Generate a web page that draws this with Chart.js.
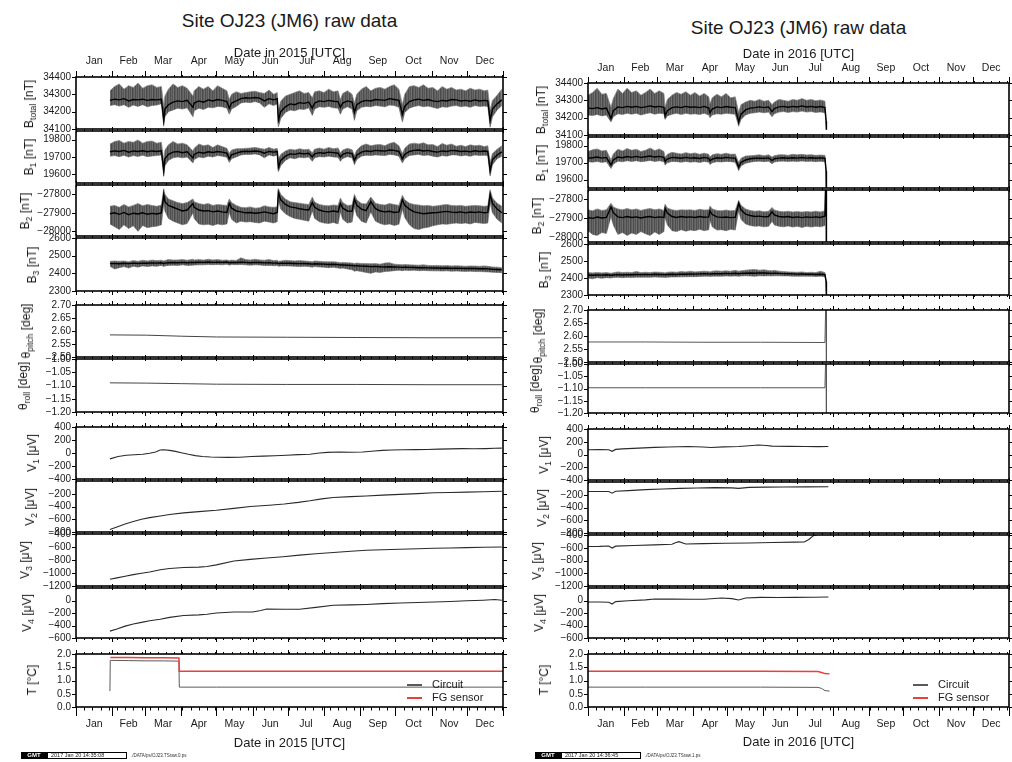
<!DOCTYPE html>
<html>
<head>
<meta charset="utf-8">
<title>Site OJ23 (JM6) raw data</title>
<script src="https://cdn.jsdelivr.net/npm/chart.js@4.4.1/dist/chart.umd.min.js"></script>
<style>
  body { margin: 0; background: #fff; }
  #page { position: relative; width: 1012px; height: 762px; overflow: hidden; background: #fff;
          font-family: "Liberation Sans", Arial, Helvetica, sans-serif; color: #1a1a1a; }
  #page canvas { position: absolute; }
  .txt { position: absolute; white-space: nowrap; transform: translate(-50%, -50%); }
  .title { font-size: 19px; }
  .date { font-size: 13px; }
  .ylab { position: absolute; white-space: nowrap; font-size: 12px; line-height: 12px;
          transform: translate(-50%, -50%) rotate(-90deg); }
  .ylab sub { font-size: 72%; vertical-align: -0.3em; line-height: 0; }
  .leg { position: absolute; font-size: 11px; line-height: 11px; white-space: nowrap; }
  .legline { position: absolute; height: 2px; width: 15px; }
  .foot { position: absolute; height: 7px; display: flex; align-items: stretch; font-size: 5px; line-height: 7px; }
  .foot .logo { background: #000; color: #fff; font-weight: bold; font-size: 6px; width: 26px; text-align: center; }
  .foot .stamp { border: 1px solid #000; box-sizing: border-box; width: 80px; padding-left: 3px; line-height: 5px; font-size: 5.5px; }
  .foot .path { padding-left: 4px; font-size: 4.5px; color: #333; }
</style>
</head>
<body>
<div id="page"></div>
<script>
// ---------------- tick labels ----------------
const monthNames = ['Jan', 'Feb', 'Mar', 'Apr', 'May', 'Jun', 'Jul', 'Aug', 'Sep', 'Oct', 'Nov', 'Dec'];
const bTotalTicks = [34100, 34200, 34300, 34400];
const b1Ticks = [19600, 19700, 19800];
const b2Ticks = [-28000, -27900, -27800];
const b3Ticks = [2300, 2400, 2500, 2600];
const pitchTicks = [2.50, 2.55, 2.60, 2.65, 2.70];
const rollTicks = [-1.20, -1.15, -1.10, -1.05, -1.00];
const v1Ticks = [-400, -200, 0, 200, 400];
const v2Ticks = [-800, -600, -400, -200];
const v3Ticks = [-1200, -1000, -800, -600, -400];
const v4Ticks = [-600, -400, -200, 0];
const tempTicks = [0.0, 0.5, 1.0, 1.5, 2.0];

// ---------------- 2015 magnetometer (day of year) ----------------
const days2015B = [
  29, 33, 37, 41, 45, 49, 53, 57, 61, 65, 69, 73,
  75, 76, 79, 83, 87, 91, 95, 100, 101, 105, 109, 113,
  117, 121, 125, 129, 131, 133, 137, 141, 145, 149, 153, 157,
  161, 165, 169, 172, 173, 175, 179, 183, 187, 191, 195, 199,
  202, 204, 208, 212, 216, 220, 224, 226, 228, 232, 236, 238,
  240, 244, 248, 252, 256, 260, 264, 268, 272, 276, 279, 281,
  285, 289, 293, 297, 301, 305, 309, 313, 317, 321, 325, 329,
  333, 337, 341, 345, 349, 352, 354, 356, 360, 364];

const bTotal2015 = [
  34265, 34272, 34268, 34275, 34262, 34270, 34268, 34272, 34265, 34270, 34268, 34272,
  34150, 34215, 34240, 34255, 34262, 34258, 34265, 34225, 34250, 34262, 34255, 34268,
  34262, 34270, 34265, 34258, 34220, 34250, 34262, 34275, 34280, 34278, 34282, 34278,
  34262, 34275, 34268, 34275, 34150, 34200, 34228, 34245, 34240, 34252, 34248, 34255,
  34220, 34250, 34262, 34258, 34265, 34260, 34258, 34225, 34250, 34262, 34255, 34195,
  34240, 34258, 34265, 34262, 34270, 34268, 34265, 34275, 34270, 34265, 34185, 34230,
  34258, 34268, 34272, 34265, 34270, 34262, 34258, 34265, 34262, 34270, 34268, 34262,
  34265, 34260, 34268, 34262, 34265, 34262, 34150, 34215, 34245, 34268];
const bTotal2015Hi = [
  34320, 34345, 34360, 34330, 34350, 34340, 34365, 34335, 34350, 34355, 34340, 34345,
  34230, 34290, 34330, 34360, 34340, 34350, 34335, 34290, 34320, 34345, 34330, 34345,
  34320, 34350, 34335, 34320, 34270, 34300, 34315, 34305, 34310, 34315, 34318, 34310,
  34305, 34325, 34300, 34310, 34210, 34260, 34290, 34300, 34310, 34320, 34305, 34310,
  34280, 34315, 34320, 34310, 34330, 34315, 34320, 34270, 34305, 34320, 34300, 34250,
  34300, 34330, 34345, 34320, 34335, 34340, 34330, 34345, 34355, 34330, 34240, 34300,
  34345, 34350, 34340, 34355, 34335, 34340, 34320, 34345, 34330, 34340, 34325, 34330,
  34320, 34335, 34325, 34330, 34320, 34325, 34210, 34265, 34295, 34330];
const bTotal2015Lo = [
  34235, 34240, 34232, 34240, 34225, 34238, 34230, 34240, 34228, 34235, 34238, 34245,
  34120, 34170, 34200, 34210, 34220, 34215, 34222, 34170, 34205, 34220, 34212, 34225,
  34222, 34230, 34228, 34220, 34185, 34215, 34230, 34250, 34255, 34252, 34258, 34250,
  34225, 34245, 34235, 34245, 34112, 34160, 34195, 34210, 34205, 34215, 34212, 34222,
  34178, 34215, 34228, 34225, 34230, 34222, 34220, 34185, 34215, 34228, 34215, 34150,
  34205, 34225, 34230, 34228, 34235, 34232, 34228, 34238, 34235, 34225, 34140, 34195,
  34220, 34230, 34235, 34228, 34232, 34225, 34218, 34228, 34225, 34232, 34235, 34228,
  34232, 34225, 34235, 34230, 34232, 34230, 34110, 34170, 34210, 34235];

const b1_2015 = [
  19730, 19735, 19732, 19738, 19728, 19735, 19732, 19736, 19730, 19735, 19732, 19736,
  19620, 19690, 19715, 19728, 19732, 19725, 19730, 19695, 19715, 19728, 19722, 19730,
  19726, 19732, 19728, 19722, 19690, 19712, 19722, 19730, 19733, 19732, 19735, 19732,
  19722, 19732, 19728, 19732, 19640, 19680, 19705, 19718, 19715, 19722, 19718, 19722,
  19700, 19718, 19725, 19722, 19728, 19725, 19722, 19700, 19715, 19725, 19720, 19680,
  19710, 19728, 19735, 19732, 19738, 19736, 19734, 19740, 19738, 19732, 19690, 19715,
  19732, 19738, 19740, 19735, 19738, 19732, 19728, 19735, 19732, 19738, 19736, 19732,
  19734, 19730, 19736, 19732, 19735, 19732, 19620, 19685, 19712, 19730];
const b1_2015Hi = [
  19775, 19790, 19795, 19780, 19790, 19785, 19798, 19780, 19790, 19792, 19780, 19785,
  19680, 19740, 19770, 19790, 19775, 19780, 19770, 19735, 19750, 19775, 19765, 19770,
  19755, 19770, 19760, 19750, 19720, 19740, 19748, 19748, 19750, 19752, 19755, 19750,
  19745, 19755, 19745, 19750, 19690, 19715, 19735, 19745, 19740, 19748, 19742, 19745,
  19725, 19745, 19752, 19745, 19755, 19748, 19752, 19725, 19740, 19750, 19742, 19710,
  19740, 19765, 19775, 19765, 19770, 19772, 19765, 19778, 19785, 19765, 19720, 19750,
  19775, 19780, 19775, 19782, 19770, 19772, 19760, 19778, 19768, 19775, 19762, 19768,
  19760, 19770, 19765, 19768, 19760, 19765, 19670, 19720, 19745, 19765];
const b1_2015Lo = [
  19705, 19708, 19702, 19710, 19700, 19708, 19703, 19710, 19702, 19706, 19708, 19712,
  19590, 19650, 19680, 19695, 19700, 19695, 19700, 19665, 19685, 19700, 19695, 19705,
  19700, 19708, 19705, 19698, 19668, 19690, 19700, 19712, 19715, 19714, 19718, 19712,
  19695, 19712, 19705, 19712, 19615, 19650, 19680, 19695, 19690, 19698, 19695, 19700,
  19675, 19695, 19702, 19700, 19705, 19700, 19698, 19675, 19692, 19702, 19695, 19655,
  19685, 19705, 19710, 19708, 19712, 19710, 19708, 19715, 19712, 19705, 19665, 19690,
  19708, 19712, 19715, 19708, 19712, 19705, 19700, 19708, 19705, 19712, 19712, 19706,
  19710, 19704, 19712, 19708, 19710, 19708, 19590, 19655, 19690, 19705];

const b2_2015 = [
  -27905, -27900, -27908, -27898, -27910, -27902, -27906, -27900, -27908, -27903, -27906, -27900,
  -27800, -27840, -27860, -27870, -27880, -27890, -27885, -27850, -27870, -27885, -27890, -27888,
  -27895, -27890, -27895, -27898, -27850, -27875, -27890, -27895, -27900, -27898, -27902, -27900,
  -27895, -27900, -27905, -27898, -27790, -27830, -27855, -27868, -27872, -27878, -27882, -27885,
  -27845, -27870, -27885, -27892, -27895, -27890, -27895, -27850, -27875, -27890, -27892, -27825,
  -27860, -27880, -27888, -27840, -27878, -27890, -27895, -27892, -27898, -27895, -27830, -27860,
  -27880, -27895, -27900, -27905, -27902, -27900, -27898, -27895, -27892, -27896, -27898, -27895,
  -27900, -27896, -27898, -27895, -27900, -27898, -27800, -27850, -27880, -27900];
const b2_2015Hi = [
  -27865, -27860, -27870, -27855, -27868, -27860, -27850, -27862, -27855, -27860, -27865, -27858,
  -27770, -27800, -27825, -27835, -27845, -27850, -27845, -27825, -27840, -27850, -27855, -27850,
  -27860, -27855, -27858, -27860, -27825, -27845, -27860, -27870, -27872, -27868, -27875, -27872,
  -27862, -27868, -27870, -27868, -27770, -27800, -27825, -27840, -27845, -27848, -27852, -27855,
  -27815, -27842, -27855, -27860, -27862, -27858, -27860, -27820, -27845, -27860, -27858, -27800,
  -27830, -27850, -27852, -27815, -27848, -27855, -27858, -27850, -27855, -27860, -27805, -27830,
  -27848, -27855, -27858, -27862, -27860, -27865, -27862, -27858, -27855, -27860, -27862, -27860,
  -27865, -27862, -27860, -27862, -27865, -27862, -27775, -27820, -27848, -27865];
const b2_2015Lo = [
  -27960, -27975, -27990, -27965, -27985, -27970, -28000, -27968, -27980, -27975, -27972, -27965,
  -27850, -27890, -27930, -27945, -27955, -27965, -27958, -27900, -27930, -27960, -27965, -27962,
  -27968, -27960, -27965, -27960, -27895, -27935, -27955, -27945, -27950, -27948, -27952, -27955,
  -27945, -27950, -27955, -27948, -27830, -27880, -27905, -27920, -27930, -27935, -27940, -27945,
  -27890, -27930, -27948, -27955, -27958, -27952, -27960, -27895, -27935, -27955, -27950, -27870,
  -27915, -27945, -27955, -27895, -27945, -27958, -27965, -27960, -27968, -27962, -27880, -27925,
  -27965, -27985, -27990, -27982, -27978, -27970, -27965, -27960, -27962, -27958, -27955, -27958,
  -27955, -27960, -27952, -27955, -27958, -27955, -27845, -27900, -27935, -27955];

const b3_2015 = [
  2455, 2456, 2454, 2457, 2455, 2458, 2456, 2458, 2457, 2459, 2458, 2460,
  2455, 2458, 2460, 2461, 2460, 2462, 2460, 2462, 2461, 2463, 2462, 2464,
  2462, 2463, 2462, 2464, 2460, 2462, 2461, 2463, 2462, 2460, 2462, 2461,
  2459, 2460, 2458, 2459, 2455, 2457, 2458, 2457, 2456, 2455, 2456, 2454,
  2452, 2454, 2453, 2452, 2450, 2451, 2449, 2447, 2448, 2446, 2444, 2442,
  2443, 2441, 2440, 2438, 2439, 2437, 2436, 2437, 2436, 2435, 2434, 2435,
  2434, 2433, 2432, 2432, 2431, 2430, 2430, 2429, 2430, 2428, 2429, 2428,
  2427, 2428, 2427, 2426, 2426, 2425, 2424, 2423, 2422, 2420];
const b3_2015Hi = [
  2468, 2470, 2468, 2470, 2466, 2472, 2468, 2474, 2470, 2475, 2472, 2474,
  2470, 2472, 2478, 2475, 2476, 2478, 2474, 2480, 2475, 2478, 2475, 2480,
  2476, 2478, 2474, 2476, 2472, 2475, 2473, 2488, 2478, 2475, 2480, 2476,
  2474, 2478, 2472, 2474, 2468, 2470, 2474, 2472, 2470, 2472, 2470, 2468,
  2466, 2470, 2468, 2466, 2465, 2466, 2463, 2460, 2462, 2460, 2458, 2455,
  2458, 2456, 2455, 2454, 2455, 2452, 2458, 2460, 2452, 2450, 2448, 2450,
  2448, 2447, 2446, 2448, 2445, 2444, 2445, 2443, 2444, 2442, 2443, 2442,
  2440, 2442, 2441, 2440, 2442, 2440, 2438, 2436, 2435, 2432];
const b3_2015Lo = [
  2440, 2425, 2432, 2438, 2430, 2440, 2435, 2442, 2438, 2442, 2440, 2445,
  2438, 2442, 2445, 2446, 2444, 2448, 2445, 2446, 2447, 2448, 2448, 2450,
  2449, 2450, 2448, 2452, 2446, 2450, 2449, 2450, 2448, 2446, 2448, 2447,
  2444, 2445, 2443, 2444, 2440, 2442, 2442, 2441, 2440, 2438, 2440, 2438,
  2435, 2438, 2436, 2435, 2432, 2434, 2430, 2428, 2430, 2425, 2420, 2412,
  2415, 2410, 2405, 2400, 2408, 2405, 2410, 2412, 2415, 2418, 2415, 2418,
  2416, 2418, 2415, 2416, 2415, 2414, 2414, 2413, 2414, 2412, 2413, 2412,
  2411, 2412, 2410, 2410, 2409, 2408, 2407, 2406, 2405, 2404];

// ---------------- 2015 tilt, electrodes, temperature ----------------
const tilt2015Days = [29, 60, 90, 120, 180, 240, 300, 364];
const pitch2015 = [2.585, 2.584, 2.580, 2.577, 2.576, 2.575, 2.574, 2.574];
const roll2015 = [-1.090, -1.091, -1.093, -1.095, -1.096, -1.096, -1.097, -1.097];

const v1_2015Days = [29, 36, 43, 50, 57, 63, 68, 72, 75, 80, 85, 90, 96, 102, 108, 115, 122, 130, 140, 150, 160, 170,
  180, 190, 200, 208, 215, 225, 235, 245, 255, 262, 270, 280, 290, 300, 310, 320, 330, 340, 350, 358, 364];
const v1_2015 = [-90, -55, -35, -28, -20, -5, 15, 45, 50, 40, 25, 5, -20, -40, -55, -62, -66, -68, -65, -55, -48, -42,
  -35, -25, -20, 0, 10, 15, 12, 15, 30, 40, 45, 50, 52, 55, 60, 64, 68, 66, 68, 72, 75];
const v2_2015Days = [29, 35, 42, 49, 56, 63, 72, 80, 92, 105, 120, 135, 149, 165, 178, 190, 200, 210, 220, 235, 248,
  262, 277, 292, 306, 320, 334, 348, 364];
const v2_2015 = [-760, -720, -675, -635, -600, -575, -550, -525, -500, -480, -460, -430, -400, -380, -360, -335, -310,
  -280, -260, -245, -235, -222, -210, -198, -185, -180, -175, -168, -160];
const v3_2015Days = [29, 35, 42, 49, 56, 63, 72, 80, 92, 105, 112, 120, 135, 149, 163, 177, 191, 205, 220, 235, 248,
  262, 277, 292, 306, 320, 334, 348, 364];
const v3_2015 = [-1095, -1075, -1050, -1025, -1005, -985, -950, -930, -915, -910, -900, -875, -815, -790, -770, -750,
  -725, -705, -685, -665, -650, -642, -635, -627, -620, -615, -610, -605, -600];
const v4_2015Days = [29, 35, 42, 49, 56, 63, 72, 80, 92, 105, 112, 120, 135, 151, 158, 163, 177, 191, 205, 220, 235,
  248, 262, 277, 292, 306, 320, 334, 348, 358, 364];
const v4_2015 = [-490, -455, -410, -375, -350, -325, -300, -270, -240, -230, -220, -200, -185, -183, -160, -135, -140,
  -140, -110, -75, -70, -63, -50, -40, -32, -25, -15, -5, 5, 15, 5];

const circuit2015Days = [29, 29.3, 45, 60, 75, 88, 88.3, 120, 200, 300, 365];
const circuit2015 = [0.60, 1.76, 1.75, 1.74, 1.74, 1.73, 0.75, 0.75, 0.75, 0.75, 0.75];
const fg2015Days = [29.3, 45, 60, 75, 88, 88.3, 150, 250, 365];
const fg2015 = [1.87, 1.87, 1.86, 1.86, 1.85, 1.35, 1.35, 1.35, 1.35];

// ---------------- 2016 magnetometer ----------------
const days2016B = [
  0, 4, 8, 12, 16, 20, 22, 26, 30, 34, 38, 42,
  46, 50, 54, 58, 62, 66, 67, 69, 73, 77, 81, 85,
  89, 93, 97, 101, 105, 106, 108, 112, 116, 120, 124, 128,
  131, 133, 137, 141, 145, 149, 153, 157, 160, 162, 166, 170,
  174, 178, 182, 186, 190, 194, 198, 202, 206, 207, 207.3];

const bTotal2016 = [
  34255, 34252, 34258, 34250, 34255, 34195, 34240, 34262, 34258, 34265, 34260, 34265,
  34258, 34262, 34268, 34262, 34265, 34260, 34210, 34240, 34258, 34262, 34258, 34265,
  34260, 34262, 34258, 34265, 34255, 34228, 34250, 34262, 34258, 34264, 34260, 34258,
  34175, 34220, 34245, 34255, 34258, 34262, 34258, 34262, 34235, 34252, 34262, 34265,
  34260, 34265, 34262, 34268, 34262, 34265, 34260, 34264, 34258, 34180, 34130];
const bTotal2016Hi = [
  34330, 34345, 34370, 34335, 34340, 34260, 34310, 34365, 34340, 34370, 34345, 34355,
  34330, 34345, 34365, 34340, 34355, 34340, 34260, 34305, 34330, 34345, 34335, 34350,
  34330, 34345, 34325, 34340, 34320, 34280, 34315, 34335, 34320, 34340, 34315, 34320,
  34230, 34275, 34290, 34300, 34295, 34305, 34295, 34300, 34275, 34290, 34305, 34300,
  34295, 34305, 34300, 34310, 34300, 34305, 34298, 34302, 34295, 34180, 34130];
const bTotal2016Lo = [
  34215, 34212, 34218, 34210, 34215, 34175, 34205, 34222, 34218, 34225, 34220, 34225,
  34215, 34222, 34228, 34220, 34225, 34222, 34190, 34210, 34220, 34225, 34218, 34225,
  34220, 34222, 34218, 34225, 34215, 34200, 34215, 34222, 34220, 34225, 34222, 34220,
  34150, 34190, 34215, 34225, 34228, 34232, 34228, 34232, 34205, 34222, 34232, 34235,
  34230, 34235, 34232, 34238, 34232, 34235, 34230, 34233, 34228, 34180, 34130];

const b1_2016 = [
  19725, 19728, 19732, 19726, 19730, 19685, 19715, 19732, 19728, 19735, 19730, 19736,
  19730, 19734, 19738, 19732, 19736, 19730, 19705, 19720, 19730, 19728, 19725, 19730,
  19726, 19728, 19724, 19730, 19725, 19710, 19720, 19728, 19725, 19730, 19727, 19725,
  19672, 19700, 19715, 19722, 19725, 19726, 19724, 19727, 19712, 19722, 19726, 19728,
  19725, 19728, 19726, 19729, 19726, 19728, 19725, 19727, 19725, 19650, 19500];
const b1_2016Hi = [
  19765, 19775, 19780, 19768, 19772, 19715, 19750, 19778, 19768, 19782, 19772, 19778,
  19765, 19772, 19785, 19770, 19780, 19765, 19730, 19748, 19760, 19755, 19750, 19758,
  19752, 19756, 19748, 19755, 19748, 19732, 19745, 19752, 19748, 19755, 19748, 19750,
  19700, 19725, 19738, 19740, 19742, 19745, 19740, 19745, 19732, 19740, 19745, 19746,
  19742, 19748, 19745, 19748, 19744, 19746, 19742, 19744, 19742, 19650, 19500];
const b1_2016Lo = [
  19705, 19702, 19706, 19700, 19705, 19665, 19690, 19708, 19704, 19710, 19706, 19710,
  19704, 19708, 19712, 19706, 19710, 19705, 19685, 19698, 19706, 19705, 19702, 19706,
  19702, 19705, 19700, 19706, 19702, 19688, 19698, 19705, 19703, 19706, 19705, 19702,
  19652, 19680, 19695, 19702, 19706, 19707, 19705, 19708, 19692, 19703, 19707, 19708,
  19706, 19708, 19706, 19709, 19706, 19708, 19705, 19707, 19705, 19650, 19500];

const b2_2016 = [
  -27895, -27900, -27893, -27898, -27895, -27840, -27870, -27892, -27896, -27890, -27895, -27892,
  -27898, -27893, -27890, -27896, -27892, -27895, -27848, -27872, -27890, -27895, -27890, -27894,
  -27892, -27895, -27890, -27894, -27892, -27860, -27880, -27892, -27895, -27893, -27896, -27894,
  -27820, -27855, -27878, -27885, -27890, -27888, -27892, -27890, -27865, -27882, -27890, -27893,
  -27890, -27895, -27892, -27896, -27892, -27895, -27892, -27895, -27888, -27600, -28100];
const b2_2016Hi = [
  -27855, -27860, -27850, -27858, -27855, -27820, -27840, -27850, -27855, -27848, -27855, -27850,
  -27858, -27852, -27848, -27855, -27850, -27858, -27825, -27845, -27855, -27858, -27855, -27856,
  -27855, -27858, -27852, -27856, -27855, -27835, -27850, -27858, -27860, -27856, -27860, -27858,
  -27805, -27830, -27850, -27858, -27862, -27860, -27865, -27862, -27842, -27856, -27862, -27865,
  -27862, -27866, -27864, -27867, -27864, -27866, -27862, -27866, -27860, -27600, -28100];
const b2_2016Lo = [
  -27965, -27985, -27990, -27975, -27980, -27890, -27935, -27985, -27975, -27990, -27978, -27985,
  -27970, -27982, -27990, -27972, -27985, -27970, -27895, -27935, -27965, -27970, -27960, -27968,
  -27962, -27965, -27958, -27965, -27960, -27910, -27945, -27962, -27960, -27965, -27958, -27962,
  -27860, -27905, -27930, -27938, -27942, -27940, -27945, -27942, -27915, -27935, -27942, -27945,
  -27940, -27946, -27942, -27948, -27942, -27946, -27942, -27945, -27938, -27600, -28100];

const b3_2016 = [
  2418, 2416, 2418, 2417, 2419, 2416, 2418, 2420, 2418, 2420, 2419, 2421,
  2420, 2421, 2420, 2422, 2421, 2420, 2419, 2421, 2422, 2421, 2423, 2422,
  2424, 2423, 2424, 2425, 2424, 2423, 2425, 2426, 2425, 2427, 2426, 2428,
  2425, 2427, 2428, 2429, 2428, 2430, 2429, 2428, 2427, 2428, 2427, 2426,
  2425, 2424, 2423, 2424, 2422, 2423, 2421, 2422, 2420, 2380, 2290];
const b3_2016Hi = [
  2432, 2430, 2433, 2430, 2432, 2428, 2431, 2436, 2432, 2434, 2432, 2438,
  2432, 2434, 2432, 2435, 2434, 2432, 2430, 2434, 2436, 2434, 2438, 2436,
  2440, 2436, 2438, 2440, 2438, 2436, 2440, 2442, 2440, 2442, 2440, 2445,
  2440, 2442, 2446, 2448, 2450, 2446, 2448, 2444, 2442, 2445, 2440, 2438,
  2436, 2435, 2434, 2436, 2432, 2434, 2432, 2440, 2432, 2380, 2290];
const b3_2016Lo = [
  2400, 2395, 2402, 2398, 2402, 2400, 2403, 2404, 2402, 2404, 2403, 2405,
  2404, 2405, 2404, 2406, 2405, 2404, 2403, 2405, 2406, 2406, 2407, 2407,
  2408, 2408, 2409, 2410, 2410, 2409, 2410, 2411, 2410, 2412, 2411, 2412,
  2410, 2412, 2413, 2412, 2410, 2413, 2412, 2413, 2412, 2413, 2413, 2412,
  2412, 2411, 2410, 2411, 2410, 2410, 2409, 2410, 2408, 2380, 2290];

// ---------------- 2016 tilt, electrodes, temperature ----------------
const tilt2016Days = [0, 50, 100, 150, 206, 207, 207.3];
const pitch2016 = [2.577, 2.577, 2.576, 2.576, 2.575, 2.80, 2.40];
const roll2016 = [-1.097, -1.097, -1.097, -1.097, -1.097, -0.90, -1.30];

const v1_2016Days = [0, 10, 18, 21, 24, 30, 44, 58, 70, 87, 100, 107, 118, 131, 140, 148, 155, 160, 175, 189, 200, 209];
const v1_2016 = [75, 78, 75, 50, 80, 88, 100, 112, 118, 125, 118, 110, 120, 125, 138, 148, 140, 132, 128, 125, 124, 125];
const v2_2016Days = [0, 10, 18, 21, 24, 35, 50, 65, 80, 95, 110, 125, 131, 140, 155, 170, 190, 209];
const v2_2016 = [-150, -148, -150, -175, -145, -135, -120, -110, -100, -95, -88, -92, -100, -85, -80, -78, -76, -75];
const v3_2016Days = [0, 10, 18, 21, 24, 40, 58, 73, 76, 79, 85, 100, 120, 140, 160, 180, 188, 192, 196, 200, 206];
const v3_2016 = [-580, -578, -572, -605, -575, -565, -555, -545, -520, -505, -540, -535, -530, -525, -518, -512, -510,
  -470, -410, -390, -385];
const v4_2016Days = [0, 10, 18, 21, 24, 35, 50, 58, 73, 90, 101, 116, 125, 131, 137, 150, 165, 180, 195, 209];
const v4_2016 = [-25, -25, -28, -57, -18, -5, 10, 25, 22, 20, 20, 40, 30, 8, 40, 50, 48, 50, 52, 55];

const temp2016Days = [0, 50, 100, 150, 200, 203, 206, 210];
const circuit2016 = [0.75, 0.75, 0.75, 0.75, 0.74, 0.70, 0.62, 0.60];
const fg2016 = [1.35, 1.35, 1.35, 1.35, 1.34, 1.30, 1.26, 1.25];

// ---------------- drawing ----------------
const FONT = '"Liberation Sans", Arial, Helvetica, sans-serif';
Chart.defaults.font.family = FONT;
Chart.defaults.color = '#1a1a1a';

const Y_W = 60, PAD_R = 10, PAD_T = 10, PAD_B = 10, AXIS_H = 26;
const RED = '#e8403a', GREY = '#5a5a5a';

// fine vertical hatching that gives the scatter band of the raw samples its texture
const bandFill = (() => {
  const c = document.createElement('canvas');
  c.width = 7; c.height = 4;
  const g = c.getContext('2d');
  ['#4e4e4e', '#666666', '#555555', '#707070', '#4a4a4a', '#5e5e5e', '#6a6a6a'].forEach((col, i) => {
    g.fillStyle = col;
    g.fillRect(i, 0, 1, 4);
  });
  return g.createPattern(c, 'repeat');
})();

const pts = (days, vals) => days.map((d, i) => ({ x: d, y: vals[i] }));
const trace = (days, vals, color, width) => ({ data: pts(days, vals), borderColor: color, borderWidth: width, fill: false });
const noisy = (days, mid, hi, lo) => [
  { data: pts(days, mid), borderColor: '#000', borderWidth: 1.4, fill: false },
  { data: pts(days, hi), borderColor: 'rgba(130,130,130,0.9)', borderWidth: 0.8,
    backgroundColor: bandFill, fill: '+1' },
  { data: pts(days, lo), borderColor: 'rgba(130,130,130,0.9)', borderWidth: 0.8, fill: false }
];

const minus = s => s.replace('-', '\u2212');
const fmtInt = v => minus(String(Math.round(v)));
const fmt2 = v => minus(v.toFixed(2));
const fmt1 = v => minus(v.toFixed(1));

function monthBounds(leap) {
  const len = [31, leap ? 29 : 28, 31, 30, 31, 30, 31, 31, 30, 31, 30, 31];
  const b = [0];
  len.forEach(l => b.push(b[b.length - 1] + l));
  return b;
}

// frame with outward ticks on every side of a panel
const framePlugin = {
  id: 'panelFrame',
  afterDatasetsDraw(chart, args, opts) {
    const { ctx, chartArea: a } = chart;
    const xs = chart.scales.x, ys = chart.scales.y;
    ctx.save();
    ctx.strokeStyle = '#000';
    ctx.lineWidth = 1;
    ctx.beginPath();
    for (let d = 0; d <= opts.xMax; d += 7) {
      const px = Math.round(xs.getPixelForValue(d)) + 0.5;
      ctx.moveTo(px, a.top); ctx.lineTo(px, a.top - opts.minTop);
      ctx.moveTo(px, a.bottom); ctx.lineTo(px, a.bottom + opts.minBot);
    }
    opts.bounds.forEach(d => {
      const px = Math.round(xs.getPixelForValue(d)) + 0.5;
      ctx.moveTo(px, a.top); ctx.lineTo(px, a.top - opts.majTop);
      ctx.moveTo(px, a.bottom); ctx.lineTo(px, a.bottom + opts.majBot);
    });
    ys.ticks.forEach(t => {
      const py = Math.round(ys.getPixelForValue(t.value)) + 0.5;
      ctx.moveTo(a.left, py); ctx.lineTo(a.left - 4, py);
      ctx.moveTo(a.right, py); ctx.lineTo(a.right + 4, py);
    });
    ctx.stroke();
    ctx.lineWidth = 1.6;
    ctx.strokeRect(a.left, a.top, a.right - a.left, a.bottom - a.top);
    ctx.restore();
  }
};

const page = document.getElementById('page');

function addText(cls, html, x, y) {
  const el = document.createElement('div');
  el.className = cls;
  el.innerHTML = html;
  el.style.left = x + 'px';
  el.style.top = y + 'px';
  page.appendChild(el);
  return el;
}

function buildColumn(col) {
  const bounds = monthBounds(col.leap);
  const mids = bounds.slice(0, 12).map((b, i) => (b + bounds[i + 1]) / 2);
  const xMax = bounds[12];
  const n = col.panels.length;

  col.panels.forEach((p, idx) => {
    const first = idx === 0, last = idx === n - 1;
    const showX = first || last;
    const topAx = first ? AXIS_H : 0, botAx = last ? AXIS_H : 0;
    const w = (col.right - col.left) + Y_W + PAD_R;
    const h = (p.bottom - p.top) + PAD_T + PAD_B + topAx + botAx;
    const cv = document.createElement('canvas');
    cv.width = w; cv.height = h;
    cv.style.left = (col.left - Y_W) + 'px';
    cv.style.top = (p.top - PAD_T - topAx) + 'px';
    cv.style.width = w + 'px'; cv.style.height = h + 'px';
    page.appendChild(cv);

    new Chart(cv, {
      type: 'line',
      data: { datasets: p.datasets },
      options: {
        responsive: false, animation: false, devicePixelRatio: 1, events: [],
        layout: { padding: { left: 0, right: PAD_R, top: PAD_T, bottom: PAD_B } },
        elements: { point: { radius: 0 }, line: { tension: 0 } },
        plugins: {
          legend: { display: false }, tooltip: { enabled: false },
          panelFrame: {
            bounds, xMax,
            majTop: first ? 6 : 4, minTop: 2,
            majBot: last ? 9 : 4, minBot: last ? 3.5 : 2
          }
        },
        scales: {
          x: {
            type: 'linear', min: 0, max: xMax,
            display: showX, position: first ? 'top' : 'bottom',
            grid: { display: false, drawTicks: false }, border: { display: false },
            afterBuildTicks: s => { s.ticks = mids.map(v => ({ value: v })); },
            afterFit: s => { s.height = showX ? AXIS_H : 0; },
            ticks: { autoSkip: false, maxRotation: 0, padding: first ? col.monthPadTop : col.monthPadBot,
                     font: { size: 10.5 }, color: '#1a1a1a', callback: (v, i) => monthNames[i] }
          },
          y: {
            type: 'linear', min: p.min, max: p.max,
            grid: { display: false, drawTicks: false }, border: { display: false },
            afterBuildTicks: s => { s.ticks = p.ticks.map(v => ({ value: v })); },
            afterFit: s => { s.width = Y_W; },
            ticks: { autoSkip: false, padding: 5, font: { size: 10 }, color: '#1a1a1a', callback: v => p.fmt(v) }
          }
        }
      },
      plugins: [framePlugin]
    });

    addText('ylab', p.title, col.left + p.titleDx, (p.top + p.bottom) / 2);
  });

  const cx = (col.left + col.right) / 2;
  addText('txt title', 'Site OJ23 (JM6) raw data', cx, col.titleY);
  addText('txt date', `Date in ${col.year} [UTC]`, cx, col.dateTopY);
  addText('txt date', `Date in ${col.year} [UTC]`, cx, col.dateBotY);

  // legend of the temperature panel
  const legX = col.right - 96;
  [['Circuit', GREY, 685], ['FG sensor', RED, 698]].forEach(([name, color, y]) => {
    const ln = document.createElement('div');
    ln.className = 'legline';
    ln.style.left = legX + 'px';
    ln.style.top = (y - 1) + 'px';
    ln.style.background = color;
    page.appendChild(ln);
    const tx = document.createElement('div');
    tx.className = 'leg';
    tx.textContent = name;
    tx.style.left = (legX + 25) + 'px';
    tx.style.top = (y - 6) + 'px';
    page.appendChild(tx);
  });

  // plot stamp
  const foot = document.createElement('div');
  foot.className = 'foot';
  foot.style.left = col.footX + 'px';
  foot.style.top = '752px';
  foot.innerHTML = `<span class="logo">GMT</span><span class="stamp">${col.stamp}</span><span class="path">${col.path}</span>`;
  page.appendChild(foot);
}

const panelTitles = [
  'B<sub>total</sub> [nT]', 'B<sub>1</sub> [nT]', 'B<sub>2</sub> [nT]', 'B<sub>3</sub> [nT]',
  '\u03b8<sub>pitch</sub> [deg]', '\u03b8<sub>roll</sub> [deg]',
  'V<sub>1</sub> [\u03bcV]', 'V<sub>2</sub> [\u03bcV]', 'V<sub>3</sub> [\u03bcV]', 'V<sub>4</sub> [\u03bcV]',
  'T [\u00b0C]'
];
const titleDx = [-47, -47, -51, -44, -50, -53, -44, -46, -51, -49, -44];
const ranges = [
  [34100, 34400, bTotalTicks, fmtInt], [19550, 19850, b1Ticks, fmtInt], [-28025, -27750, b2Ticks, fmtInt],
  [2300, 2600, b3Ticks, fmtInt], [2.50, 2.70, pitchTicks, fmt2], [-1.20, -1.00, rollTicks, fmt2],
  [-400, 400, v1Ticks, fmtInt], [-800, 0, v2Ticks, fmtInt], [-1200, -400, v3Ticks, fmtInt],
  [-600, 200, v4Ticks, fmtInt], [0, 2, tempTicks, fmt1]
];
const LINE = '#2a2a2a';

function panelsFor(edges, sets) {
  return edges.map((e, i) => ({
    top: e[0], bottom: e[1], min: ranges[i][0], max: ranges[i][1], ticks: ranges[i][2], fmt: ranges[i][3],
    title: panelTitles[i], titleDx: titleDx[i], datasets: sets[i]
  }));
}

buildColumn({
  year: 2015, leap: false, left: 76, right: 503, titleY: 21, dateTopY: 52, dateBotY: 742,
  monthPadTop: 10, monthPadBot: 11, footX: 21,
  stamp: '2017 Jan 20 14:35:08', path: './DATA/ps/OJ23.TSraw.0.ps',
  panels: panelsFor(
    [[77, 130], [130, 184], [184, 237], [237, 292], [304, 358], [358, 413],
     [426, 480], [480, 533], [533, 587], [587, 639], [653, 707]],
    [
      noisy(days2015B, bTotal2015, bTotal2015Hi, bTotal2015Lo),
      noisy(days2015B, b1_2015, b1_2015Hi, b1_2015Lo),
      noisy(days2015B, b2_2015, b2_2015Hi, b2_2015Lo),
      noisy(days2015B, b3_2015, b3_2015Hi, b3_2015Lo),
      [trace(tilt2015Days, pitch2015, '#444', 1)],
      [trace(tilt2015Days, roll2015, '#444', 1)],
      [trace(v1_2015Days, v1_2015, LINE, 1.1)],
      [trace(v2_2015Days, v2_2015, LINE, 1.1)],
      [trace(v3_2015Days, v3_2015, LINE, 1.1)],
      [trace(v4_2015Days, v4_2015, LINE, 1.1)],
      [trace(fg2015Days, fg2015, RED, 1.5), trace(circuit2015Days, circuit2015, GREY, 1)]
    ])
});

buildColumn({
  year: 2016, leap: true, left: 588, right: 1009, titleY: 28, dateTopY: 53, dateBotY: 741,
  monthPadTop: 9, monthPadBot: 11, footX: 535,
  stamp: '2017 Jan 20 14:36:45', path: './DATA/ps/OJ23.TSraw.1.ps',
  panels: panelsFor(
    [[83, 136], [136, 189], [189, 243], [243, 296], [309, 363], [363, 414],
     [428, 481], [481, 534], [534, 587], [587, 639], [653, 707]],
    [
      noisy(days2016B, bTotal2016, bTotal2016Hi, bTotal2016Lo),
      noisy(days2016B, b1_2016, b1_2016Hi, b1_2016Lo),
      noisy(days2016B, b2_2016, b2_2016Hi, b2_2016Lo),
      noisy(days2016B, b3_2016, b3_2016Hi, b3_2016Lo),
      [trace(tilt2016Days, pitch2016, '#555', 1)],
      [trace(tilt2016Days, roll2016, '#555', 1)],
      [trace(v1_2016Days, v1_2016, LINE, 1.1)],
      [trace(v2_2016Days, v2_2016, LINE, 1.1)],
      [trace(v3_2016Days, v3_2016, LINE, 1.1)],
      [trace(v4_2016Days, v4_2016, LINE, 1.1)],
      [trace(temp2016Days, fg2016, RED, 1.5), trace(temp2016Days, circuit2016, GREY, 1)]
    ])
});
</script>
</body>
</html>
